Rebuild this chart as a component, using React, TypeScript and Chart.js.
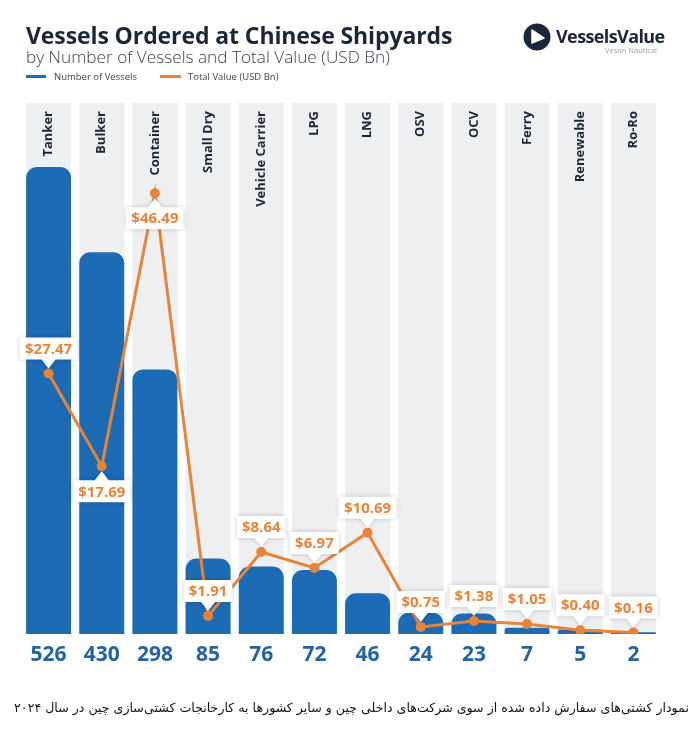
import React, { useEffect, useRef } from "react";
import { Chart, registerables } from "chart.js";

Chart.register(...registerables);

const categories = ["Tanker", "Bulker", "Container", "Small Dry", "Vehicle Carrier", "LPG", "LNG", "OSV", "OCV", "Ferry", "Renewable", "Ro-Ro"];
const vesselCounts = [526, 430, 298, 85, 76, 72, 46, 24, 23, 7, 5, 2];
const totalValues = [27.47, 17.69, 46.49, 1.91, 8.64, 6.97, 10.69, 0.75, 1.38, 1.05, 0.4, 0.16];
const seriesNames = ["Number of Vessels", "Total Value (USD Bn)"];
const countAxisMax = 598;
const valueAxisMax = 56;

// style config: which value labels sit below their point
const labelBelow = [false, true, true, false, false, false, false, false, false, false, false, false];

const BLUE = "#1c6bb5";
const ORANGE = "#e8833a";
const GRAY = "#eeeff1";
const NAVY = "#1b2638";
const FONT = "'Open Sans', sans-serif";

const decorPlugin = {
  id: "decor",
  beforeDatasetsDraw(chart: any) {
    const ctx = chart.ctx;
    const area = chart.chartArea;
    const meta = chart.getDatasetMeta(0);
    ctx.save();
    meta.data.forEach((bar: any, i: number) => {
      const w = bar.width;
      ctx.fillStyle = GRAY;
      ctx.fillRect(bar.x - w / 2, area.top, w, area.bottom - area.top);
      ctx.save();
      ctx.translate(bar.x, area.top + 8);
      ctx.rotate(-Math.PI / 2);
      ctx.fillStyle = NAVY;
      ctx.font = `700 13px ${FONT}`;
      ctx.textAlign = "right";
      ctx.textBaseline = "middle";
      ctx.fillText(categories[i], 0, 0);
      ctx.restore();
    });
    ctx.restore();
  },
  afterDatasetsDraw(chart: any) {
    const ctx = chart.ctx;
    const area = chart.chartArea;
    const bars = chart.getDatasetMeta(0).data;
    const pts = chart.getDatasetMeta(1).data;
    ctx.save();
    bars.forEach((bar: any, i: number) => {
      ctx.fillStyle = "#2263a6";
      ctx.font = `700 21px ${FONT}`;
      ctx.textAlign = "center";
      ctx.textBaseline = "middle";
      ctx.fillText(String(vesselCounts[i]), bar.x, area.bottom + 21);
    });
    pts.forEach((p: any, i: number) => {
      const txt = "$" + totalValues[i].toFixed(2);
      ctx.font = `700 15px ${FONT}`;
      const tw = ctx.measureText(txt).width;
      const bw = tw + 10;
      const bh = 22;
      const below = labelBelow[i];
      const cy = below ? p.y + 25 : p.y - 25;
      const left = p.x - bw / 2;
      const top = cy - bh / 2;
      const bottom = cy + bh / 2;
      ctx.save();
      ctx.shadowColor = "rgba(0,0,0,0.2)";
      ctx.shadowBlur = 5;
      ctx.fillStyle = "#ffffff";
      ctx.beginPath();
      if (!below) {
        ctx.moveTo(left, top);
        ctx.lineTo(left + bw, top);
        ctx.lineTo(left + bw, bottom);
        ctx.lineTo(p.x + 7, bottom);
        ctx.lineTo(p.x, bottom + 9);
        ctx.lineTo(p.x - 7, bottom);
        ctx.lineTo(left, bottom);
      } else {
        ctx.moveTo(left, top);
        ctx.lineTo(p.x - 7, top);
        ctx.lineTo(p.x, top - 9);
        ctx.lineTo(p.x + 7, top);
        ctx.lineTo(left + bw, top);
        ctx.lineTo(left + bw, bottom);
        ctx.lineTo(left, bottom);
      }
      ctx.closePath();
      ctx.fill();
      ctx.restore();
      ctx.fillStyle = ORANGE;
      ctx.textAlign = "center";
      ctx.textBaseline = "middle";
      ctx.fillText(txt, p.x, cy + 1);
    });
    ctx.restore();
  },
};

function ChartCanvas() {
  const ref = useRef<HTMLCanvasElement | null>(null);
  useEffect(() => {
    if (!ref.current) return;
    const chart = new Chart(ref.current, {
      type: "bar",
      data: {
        labels: categories,
        datasets: [
          {
            type: "bar",
            label: seriesNames[0],
            data: vesselCounts,
            backgroundColor: BLUE,
            borderRadius: { topLeft: 11, topRight: 11, bottomLeft: 0, bottomRight: 0 },
            borderSkipped: false,
            categoryPercentage: 1,
            barPercentage: 0.846,
            yAxisID: "y",
            order: 1,
          },
          {
            type: "line",
            label: seriesNames[1],
            data: totalValues,
            borderColor: ORANGE,
            backgroundColor: ORANGE,
            borderWidth: 3,
            pointRadius: 5,
            pointBorderWidth: 0,
            pointBackgroundColor: ORANGE,
            tension: 0,
            yAxisID: "y2",
            order: 0,
          },
        ],
      } as any,
      options: {
        responsive: false,
        animation: false,
        layout: { padding: { left: 22, right: 39, top: 103, bottom: 102 } },
        plugins: { legend: { display: false }, tooltip: { enabled: false } },
        scales: {
          x: { display: false },
          y: { display: false, min: 0, max: countAxisMax },
          y2: { display: false, min: 0, max: valueAxisMax, position: "right" },
        },
      } as any,
      plugins: [decorPlugin],
    });
    return () => chart.destroy();
  }, []);
  return <canvas ref={ref} width={699} height={736} style={{ position: "absolute", left: 0, top: 0 }} />;
}

export default function App() {
  return (
    <div style={{ position: "absolute", left: 0, top: 0, width: 699, height: 736, background: "#fff", overflow: "hidden" }}>
      <ChartCanvas />
      <div style={{ position: "absolute", left: 26, top: 19, fontFamily: FONT, fontWeight: 700, fontSize: 23, color: NAVY, whiteSpace: "nowrap", letterSpacing: -0.1 }}>
        Vessels Ordered at Chinese Shipyards
      </div>
      <div style={{ position: "absolute", left: 26, top: 45, fontFamily: FONT, fontWeight: 300, fontSize: 17.2, color: "#3a4250", whiteSpace: "nowrap" }}>
        by Number of Vessels and Total Value (USD Bn)
      </div>
      <div style={{ position: "absolute", left: 26, top: 70, fontFamily: FONT, fontSize: 9.5, color: "#3a4250", whiteSpace: "nowrap", display: "flex", alignItems: "center" }}>
        <span style={{ display: "inline-block", width: 20, height: 3, background: BLUE, marginRight: 8 }} />
        <span>{seriesNames[0]}</span>
        <span style={{ display: "inline-block", width: 21, height: 3, background: ORANGE, marginLeft: 23, marginRight: 7 }} />
        <span>{seriesNames[1]}</span>
      </div>
      <svg width={28} height={28} viewBox="0 0 28 28" style={{ position: "absolute", left: 523, top: 23 }}>
        <circle cx={14} cy={14} r={13.5} fill={NAVY} />
        <path d="M9 7 L21 15 L9 20 Z" fill="#fff" strokeLinejoin="round" stroke="#fff" strokeWidth={1.5} />
      </svg>
      <div style={{ position: "absolute", left: 556, top: 24, fontFamily: FONT, fontWeight: 700, fontSize: 18, color: NAVY, whiteSpace: "nowrap", letterSpacing: -0.6 }}>
        VesselsValue
      </div>
      <div style={{ position: "absolute", right: 42, top: 45, fontFamily: FONT, fontSize: 7.5, color: "#9aa0a8", whiteSpace: "nowrap" }}>
        Veson Nautical
      </div>
      <div dir="rtl" style={{ position: "absolute", left: 2, width: 699, top: 700, textAlign: "center", fontFamily: "'DejaVu Sans', sans-serif", fontSize: 12.6, color: "#111", whiteSpace: "nowrap" }}>
        نمودار کشتی‌های سفارش داده شده از سوی شرکت‌های داخلی چین و سایر کشورها به کارخانجات کشتی‌سازی چین در سال ۲۰۲۴
      </div>
    </div>
  );
}
